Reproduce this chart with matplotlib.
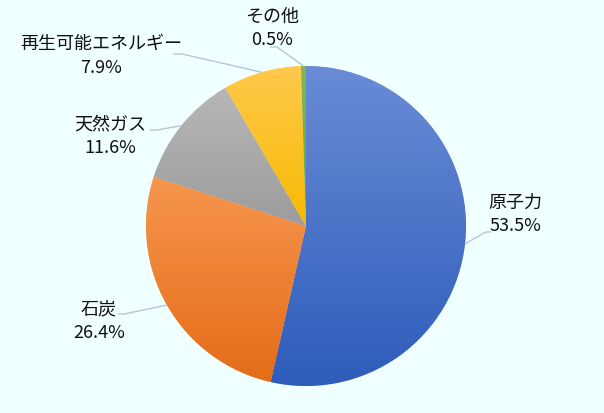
import numpy as np
import matplotlib
matplotlib.use("Agg")
import matplotlib.pyplot as plt
from matplotlib.colors import to_rgb

plt.rcParams['font.family'] = ['Noto Sans CJK JP', 'DejaVu Sans']

# data
labels = ['原子力', '石炭', '天然ガス', '再生可能エネルギー', 'その他']
shares = [53.5, 26.4, 11.6, 7.9, 0.5]

# gradient colours per slice (top, bottom)
grad_top = ['#6A8CD6', '#F6964F', '#B7B7B7', '#FFC94D', '#7DB855']
grad_bot = ['#2D5CBA', '#E46C17', '#9C9C9C', '#F7BA00', '#66A23F']

# label layout in image pixels: name centre, percent centre, elbow, end of leader
name_xy = [(515, 203), (99, 309), (110, 124), (101, 44), (272, 17)]
pct_xy = [(515, 226), (99, 333), (110, 148), (101, 68), (272, 40)]
elbow_xy = [(486, 233), (124, 315), (157, 131), (182, 55), (277, 48)]
end_xy = [(491, 233), (118, 315), (150, 131), (173, 55), (270, 48)]

W, H = 604, 414
cx, cy, R = 306, H - 227, 160


def fy(y):
    return H - y


fig = plt.figure(figsize=(W / 100, H / 100), dpi=100, facecolor='#F0FFFF')
ax = fig.add_axes([0, 0, 1, 1])

wedges, _ = ax.pie(shares, startangle=90, counterclock=False, radius=R,
                   center=(cx, cy), colors=grad_bot,
                   wedgeprops=dict(edgecolor='white', linewidth=0.4))

for i, w in enumerate(wedges):
    t = np.radians(np.linspace(w.theta1, w.theta2, 200))
    xs = np.concatenate([[cx], cx + R * np.cos(t)])
    ys = np.concatenate([[cy], cy + R * np.sin(t)])
    x0, x1, y0, y1 = xs.min(), xs.max(), ys.min(), ys.max()
    c_top = np.array(to_rgb(grad_top[i]))
    c_bot = np.array(to_rgb(grad_bot[i]))
    f = np.linspace(0, 1, 256)[:, None]
    img = (c_bot * (1 - f) + c_top * f)[:, None, :]
    im = ax.imshow(img, extent=(x0 - 1, x1 + 1, y0 - 1, y1 + 1), origin='lower',
                   aspect='auto', interpolation='bilinear', zorder=w.get_zorder())
    im.set_clip_path(w)

    # leader line from the middle of the slice edge
    mid = np.radians((w.theta1 + w.theta2) / 2)
    sx, sy = cx + R * np.cos(mid), cy + R * np.sin(mid)
    ex, ey = elbow_xy[i]
    tx, ty = end_xy[i]
    ax.plot([sx, ex, tx], [sy, fy(ey), fy(ty)], color='#B4C6DA', lw=1,
            zorder=5, solid_capstyle='butt')

    ax.text(name_xy[i][0], fy(name_xy[i][1]), labels[i], ha='center', va='center',
            fontsize=13, color='#111111', zorder=6)
    ax.text(pct_xy[i][0], fy(pct_xy[i][1]), f'{shares[i]:.1f}%', ha='center',
            va='center', fontsize=13, color='#111111', zorder=6)

ax.set_xlim(0, W)
ax.set_ylim(0, H)
ax.set_aspect('equal')
ax.axis('off')

fig.savefig('out.png', dpi=100, facecolor=fig.get_facecolor())
